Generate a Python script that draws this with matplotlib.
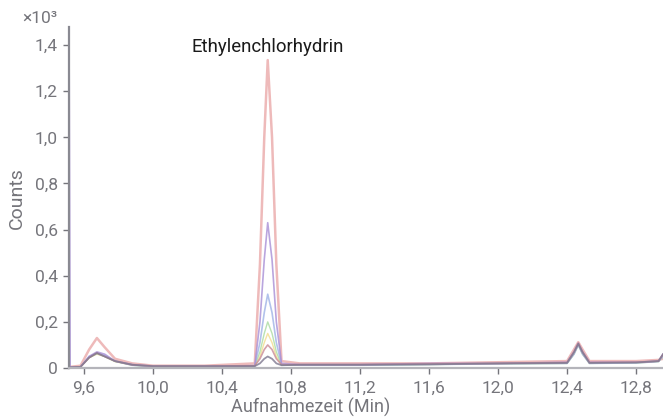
import matplotlib.pyplot as plt
import numpy as np

plt.rcParams['font.family'] = ['Roboto', 'DejaVu Sans']

# Aufnahmezeit (min) of the points
zeit = [9.514, 9.52, 9.58, 9.63, 9.675, 9.72, 9.78, 9.88, 10.0, 10.3,
        10.59, 10.62, 10.645, 10.665, 10.69, 10.715, 10.745, 10.85,
        11.2, 11.6, 12.0, 12.40, 12.44, 12.465, 12.49, 12.53, 12.8, 12.93, 12.956]

# Counts (x10^3) of each calibration level
pink = [0.005, 0.005, 0.01, 0.08, 0.13, 0.09, 0.04, 0.02, 0.01, 0.01,
        0.02, 0.45, 1.0, 1.335, 1.0, 0.45, 0.03, 0.02,
        0.02, 0.02, 0.025, 0.03, 0.08, 0.112, 0.08, 0.03, 0.03, 0.035, 0.04]
purple = [1.35, 0.005, 0.005, 0.05, 0.07, 0.06, 0.03, 0.015, 0.008, 0.008,
          0.01, 0.2, 0.47, 0.63, 0.47, 0.2, 0.02, 0.015,
          0.015, 0.02, 0.02, 0.025, 0.07, 0.108, 0.07, 0.025, 0.025, 0.03, 0.06]
blue = [0.003, 0.003, 0.005, 0.05, 0.065, 0.055, 0.03, 0.012, 0.006, 0.006,
        0.01, 0.11, 0.24, 0.32, 0.24, 0.11, 0.015, 0.012,
        0.012, 0.015, 0.018, 0.02, 0.06, 0.10, 0.06, 0.02, 0.022, 0.028, 0.05]
green = [0.003, 0.003, 0.005, 0.045, 0.062, 0.05, 0.028, 0.012, 0.006, 0.006,
         0.008, 0.07, 0.15, 0.20, 0.15, 0.07, 0.012, 0.012,
         0.012, 0.015, 0.018, 0.02, 0.06, 0.10, 0.06, 0.02, 0.022, 0.028, 0.05]
yellow = [0.003, 0.003, 0.005, 0.045, 0.06, 0.05, 0.028, 0.012, 0.006, 0.006,
          0.008, 0.05, 0.11, 0.15, 0.11, 0.05, 0.012, 0.012,
          0.012, 0.015, 0.018, 0.02, 0.06, 0.10, 0.06, 0.02, 0.022, 0.028, 0.05]
red = [0.003, 0.003, 0.005, 0.045, 0.065, 0.05, 0.03, 0.014, 0.008, 0.008,
       0.01, 0.04, 0.08, 0.10, 0.08, 0.04, 0.015, 0.015,
       0.015, 0.018, 0.02, 0.024, 0.07, 0.108, 0.07, 0.024, 0.025, 0.03, 0.058]
grau = [0.003, 0.003, 0.005, 0.045, 0.065, 0.05, 0.03, 0.014, 0.008, 0.008,
        0.008, 0.02, 0.04, 0.05, 0.04, 0.02, 0.012, 0.014,
        0.014, 0.016, 0.02, 0.022, 0.068, 0.105, 0.068, 0.022, 0.024, 0.03, 0.06]

spuren = [
    (pink, '#eaa9a9', 1.8),
    (yellow, '#f2dc8c', 1.0),
    (green, '#a9dba0', 1.0),
    (blue, '#9fb3e6', 1.2),
    (purple, '#a88fd6', 1.2),
    (red, '#c98a96', 1.2),
    (grau, '#7e7890', 1.3),
]

xticks = [9.6, 10.0, 10.4, 10.8, 11.2, 11.6, 12.0, 12.4, 12.8]
yticks = [0, 0.2, 0.4, 0.6, 0.8, 1.0, 1.2, 1.4]

grey = '#75757b'

fig = plt.figure(figsize=(6.63, 4.17), dpi=100)
ax = fig.add_axes([0.104, 0.1175, 0.896, 0.8175])

for werte, farbe, lw in spuren:
    ax.plot(zeit, werte, color=farbe, lw=lw, alpha=0.8)

ax.set_xlim(9.513, 12.956)
ax.set_ylim(0, 1.478)

ax.set_xticks(xticks)
ax.set_xticklabels([f'{v:.1f}'.replace('.', ',') for v in xticks])
ax.set_yticks(yticks)
ax.set_yticklabels(['0' if v == 0 else f'{v:.1f}'.replace('.', ',') for v in yticks])

for s in ['top', 'right']:
    ax.spines[s].set_visible(False)
ax.spines['left'].set_color('#8a8a92')
ax.spines['bottom'].set_color('#b4b4ba')
ax.spines['left'].set_linewidth(1.6)
ax.spines['bottom'].set_linewidth(1.6)
ax.tick_params(colors=grey, labelsize=12.5, length=4, width=1, direction='out', pad=4)
ax.tick_params(axis='x', pad=5)

ax.set_ylabel('Counts', color=grey, fontsize=14)
ax.yaxis.set_label_coords(-0.072, 0.4985)
ax.set_xlabel('Aufnahmezeit (Min)', color=grey, fontsize=13)
ax.xaxis.set_label_coords(0.406, -0.088)

fig.text(0.033, 0.955, '×10³', color=grey, fontsize=12.5, ha='left', va='center')
ax.text(10.665, 1.37, 'Ethylenchlorhydrin', color='#1a1a1a', fontsize=13.4,
        ha='center', va='baseline')

fig.savefig('out.png', dpi=100)
